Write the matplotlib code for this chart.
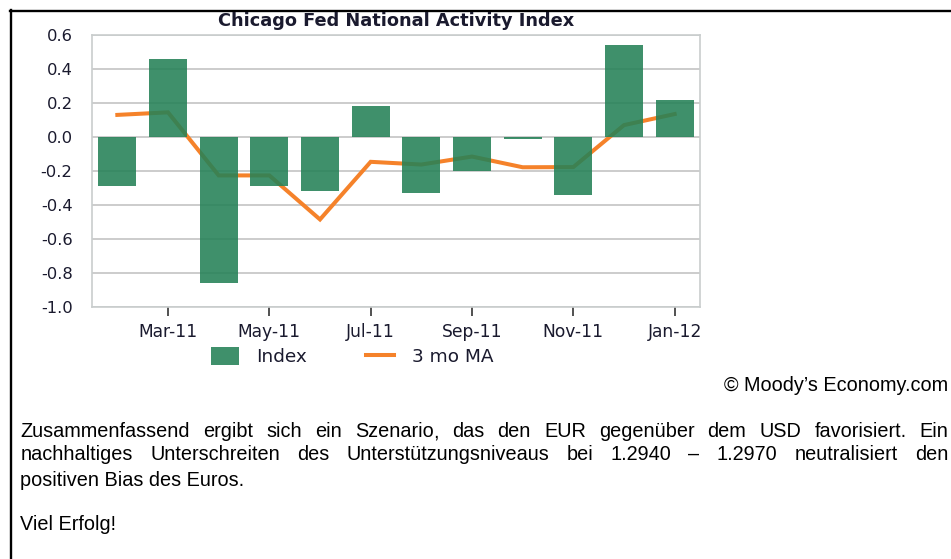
import matplotlib
matplotlib.use("Agg")
import matplotlib.pyplot as plt
from matplotlib.lines import Line2D
from matplotlib.patches import Patch

# ---------------- data ----------------
months = ["Feb-11", "Mar-11", "Apr-11", "May-11", "Jun-11", "Jul-11",
          "Aug-11", "Sep-11", "Oct-11", "Nov-11", "Dec-11", "Jan-12"]
index_values = [-0.29, 0.46, -0.86, -0.29, -0.32, 0.18,
                -0.33, -0.20, -0.01, -0.34, 0.54, 0.22]
ma3_values = [0.13, 0.145, -0.226, -0.226, -0.485, -0.146,
              -0.162, -0.115, -0.178, -0.177, 0.07, 0.135]
tick_months = months[1::2]
y_ticks = [0.6, 0.4, 0.2, 0.0, -0.2, -0.4, -0.6, -0.8, -1.0]

title = "Chicago Fed National Activity Index"
legend_labels = ["Index", "3 mo MA"]
credit = "\u00a9 Moody\u2019s Economy.com"
para_line1 = "Zusammenfassend ergibt sich ein Szenario, das den EUR gegenüber dem USD favorisiert. Ein"
para_line2 = "nachhaltiges Unterschreiten des Unterstützungsniveaus bei 1.2940 \u2013 1.2970 neutralisiert den"
para_line3 = "positiven Bias des Euros."
closing = "Viel Erfolg!"

# ---------------- styling ----------------
W, H = 951, 559
BAR_COLOR = "#248157"
LINE_COLOR = "#f5822a"
GRID_COLOR = "#c4c4c4"
FRAME_COLOR = "#c9cdcd"
TXT_COLOR = "#1a1a2e"
CHART_FONT = "DejaVu Sans"
BODY_FONT = "Liberation Sans"

def fx(px):
    return px / W

def fy(py):
    return 1 - py / H

fig = plt.figure(figsize=(W / 100, H / 100), dpi=100)
fig.patch.set_facecolor("white")

ax = fig.add_axes([fx(92), fy(307), fx(700) - fx(92), fy(35) - fy(307)])
x = list(range(len(months)))

ax.plot(x, ma3_values, color=LINE_COLOR, lw=2.9, zorder=2,
        solid_joinstyle="miter", label=legend_labels[1])
ax.bar(x, index_values, width=0.75, color=BAR_COLOR, alpha=0.88, zorder=3,
       label=legend_labels[0])

ax.set_xlim(-0.5, len(months) - 0.5)
ax.set_ylim(-1.0, 0.6)
ax.set_yticks(y_ticks)
ax.set_yticklabels([f"{v:.1f}" for v in y_ticks])
ax.set_xticks(x[1::2])
ax.set_xticklabels(tick_months)

ax.yaxis.grid(True, color=GRID_COLOR, lw=1.2, zorder=0)
ax.set_axisbelow(True)
for s in ax.spines.values():
    s.set_color(FRAME_COLOR)
    s.set_linewidth(1.2)

ax.tick_params(axis="y", length=0, pad=14, labelsize=11.8, labelcolor=TXT_COLOR)
ax.tick_params(axis="x", length=6.5, width=1.1, color="#222222", pad=5,
               labelsize=12.3, labelcolor=TXT_COLOR)
for lab in ax.get_xticklabels() + ax.get_yticklabels():
    lab.set_family(CHART_FONT)

fig.text(fx(396), fy(21), title, ha="center", va="center", fontsize=12.8,
         fontweight="bold", color=TXT_COLOR, family=CHART_FONT)

handles = [Patch(facecolor=BAR_COLOR, alpha=0.88, edgecolor="none"),
           Line2D([0], [0], color=LINE_COLOR, lw=2.9)]
leg = ax.legend(handles, legend_labels, loc="upper left",
                bbox_to_anchor=(fx(211), fy(347)), bbox_transform=fig.transFigure,
                ncol=2, frameon=False, borderpad=0, borderaxespad=0,
                handlelength=1.5, handleheight=1.15, handletextpad=0.95,
                columnspacing=3.2, prop={"family": CHART_FONT, "size": 13.3})
for t in leg.get_texts():
    t.set_color(TXT_COLOR)

# border lines of the page box
fig.add_artist(Line2D([fx(10), 1.0], [fy(10.5), fy(10.5)], color="black", lw=1.7,
                      transform=fig.transFigure))
fig.add_artist(Line2D([fx(11), fx(11)], [fy(10), 0.0], color="black", lw=1.7,
                      transform=fig.transFigure))

BODY_SIZE = 14.3
fig.text(fx(948), fy(391), credit, ha="right", va="baseline", fontsize=BODY_SIZE,
         family=BODY_FONT, color="black")

renderer = fig.canvas.get_renderer()

def text_width(s):
    t = fig.text(0, 0, s, fontsize=BODY_SIZE, family=BODY_FONT)
    w = t.get_window_extent(renderer).width
    t.remove()
    return w

def put(s, xpx, base_px):
    return fig.text(fx(xpx), fy(base_px), s, ha="left", va="baseline",
                    fontsize=BODY_SIZE, family=BODY_FONT, color="black")

def justify(line, base_px, x0=20.5, x1=948.5):
    words = line.split(" ")
    widths = [text_width(w) for w in words]
    gap = (x1 - x0 - sum(widths)) / (len(words) - 1)
    pos = x0
    for w, wd in zip(words, widths):
        if w.endswith(",") and len(w) > 1:
            # trailing comma drawn on its own keeps the word on the common baseline
            put(w[:-1], pos, base_px)
            put(",", pos + text_width(w[:-1]), base_px)
        else:
            put(w, pos, base_px)
        pos += wd + gap

justify(para_line1, 437)
justify(para_line2, 460)
put(para_line3, 20.5, 486)
put(closing, 20.5, 530)

fig.savefig("out.png", dpi=100, facecolor="white")
